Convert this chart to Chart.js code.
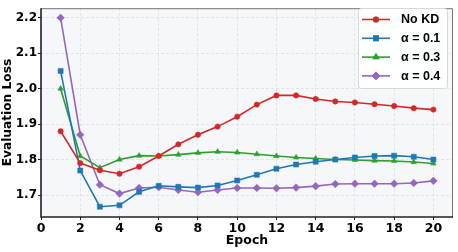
<!DOCTYPE html>
<html>
<head>
<meta charset="utf-8">
<script src="https://cdn.jsdelivr.net/npm/chart.js@4"></script>
<style>
  html, body { margin: 0; padding: 0; background: #fff; }
  #wrap { width: 458px; height: 252px; }
</style>
</head>
<body>
<div id="wrap"><canvas id="lossChart" width="458" height="252"></canvas></div>
<script>
// Data
const epochs = [1, 2, 3, 4, 5, 6, 7, 8, 9, 10, 11, 12, 13, 14, 15, 16, 17, 18, 19, 20];
const noKd   = [1.880, 1.790, 1.770, 1.760, 1.780, 1.810, 1.843, 1.870, 1.893, 1.921, 1.955, 1.981, 1.981, 1.971, 1.964, 1.961, 1.956, 1.951, 1.945, 1.941];
const alpha1 = [2.050, 1.769, 1.667, 1.671, 1.709, 1.726, 1.723, 1.721, 1.727, 1.741, 1.757, 1.774, 1.786, 1.794, 1.800, 1.806, 1.810, 1.811, 1.808, 1.800];
const alpha3 = [2.000, 1.810, 1.777, 1.800, 1.811, 1.810, 1.814, 1.819, 1.822, 1.820, 1.815, 1.810, 1.806, 1.803, 1.800, 1.799, 1.797, 1.796, 1.793, 1.789];
const alpha4 = [2.200, 1.870, 1.729, 1.704, 1.720, 1.722, 1.714, 1.708, 1.714, 1.720, 1.720, 1.719, 1.721, 1.725, 1.731, 1.732, 1.732, 1.732, 1.734, 1.740];

const seriesLabels = ['No KD', 'α = 0.1', 'α = 0.3', 'α = 0.4'];
const xTicks = [0, 2, 4, 6, 8, 10, 12, 14, 16, 18, 20];
const yTicks = [1.7, 1.8, 1.9, 2.0, 2.1, 2.2];

const colors = ['#d62728', '#1f77b4', '#2ca02c', '#9467bd'];
const edgeColors = ['rgba(214,39,40,0.5)', 'rgba(31,119,180,0.5)', 'rgba(44,160,44,0.5)', 'rgba(148,103,189,0.5)'];
const markers = ['circle', 'rect', 'triangle', 'rectRot'];
const markerSize = [2.7, 3.6, 3.2, 3.8];

const AXIS_FONT = '"DejaVu Sans", sans-serif';
const LEGEND_FONT = '"Liberation Sans", Arial, sans-serif';

function toPoints(values) {
    return values.map((v, i) => ({ x: epochs[i], y: v }));
}

const allSeries = [noKd, alpha1, alpha3, alpha4];
const datasets = allSeries.map((vals, i) => ({
    label: seriesLabels[i],
    data: toPoints(vals),
    borderColor: colors[i],
    backgroundColor: colors[i],
    borderWidth: 1.6,
    pointStyle: markers[i],
    pointRadius: markerSize[i],
    pointBackgroundColor: colors[i],
    pointBorderColor: edgeColors[i],
    pointBorderWidth: 1,
    tension: 0
}));

// plot background + spines, matplotlib style
const frame = {
    id: 'frame',
    beforeDraw(chart) {
        const { ctx, chartArea: a } = chart;
        ctx.save();
        ctx.fillStyle = '#f5f7fa';
        ctx.fillRect(a.left, a.top, a.right - a.left, a.bottom - a.top);
        ctx.restore();
    },
    afterDatasetsDraw(chart) {
        const { ctx, chartArea: a } = chart;
        ctx.save();
        ctx.strokeStyle = '#777';
        ctx.lineWidth = 1;
        ctx.beginPath();
        ctx.moveTo(a.left, a.top + 0.5);
        ctx.lineTo(a.right - 0.5, a.top + 0.5);
        ctx.lineTo(a.right - 0.5, a.bottom);
        ctx.stroke();
        ctx.strokeStyle = '#222';
        ctx.lineWidth = 1.6;
        ctx.beginPath();
        ctx.moveTo(a.left, a.top);
        ctx.lineTo(a.left, a.bottom);
        ctx.lineTo(a.right, a.bottom);
        ctx.stroke();
        ctx.restore();
    }
};

// legend drawn like matplotlib: line with marker in the middle
const lineLegend = {
    id: 'lineLegend',
    afterDraw(chart) {
        const { ctx } = chart;
        const bx = 358, by = 8, bw = 89, bh = 80;
        ctx.save();
        ctx.fillStyle = 'rgba(255,255,255,0.9)';
        ctx.strokeStyle = '#d8d8d8';
        ctx.lineWidth = 1;
        ctx.beginPath();
        ctx.roundRect(bx + 0.5, by + 0.5, bw, bh, 3);
        ctx.fill();
        ctx.stroke();
        ctx.font = 'bold 12.5px ' + LEGEND_FONT;
        ctx.textBaseline = 'middle';
        chart.data.datasets.forEach((ds, i) => {
            const y = 19.5 + i * 18.8;
            ctx.strokeStyle = ds.borderColor;
            ctx.lineWidth = 1.6;
            ctx.beginPath();
            ctx.moveTo(362, y);
            ctx.lineTo(390, y);
            ctx.stroke();
            Chart.helpers.drawPoint(ctx, {
                pointStyle: ds.pointStyle,
                radius: ds.pointRadius * 0.85,
                borderWidth: 1,
                rotation: 0
            }, 376, y);
            ctx.fillStyle = ds.pointBackgroundColor;
            ctx.strokeStyle = ds.pointBorderColor;
            ctx.fill();
            ctx.stroke();
            ctx.fillStyle = '#000';
            ctx.fillText(ds.label, 401, y + 0.5);
        });
        ctx.restore();
    }
};

const ctx = document.getElementById('lossChart').getContext('2d');
new Chart(ctx, {
    type: 'line',
    data: { datasets },
    options: {
        responsive: false,
        animation: false,
        layout: { padding: { top: 3, right: 3, left: 0, bottom: 0 } },
        plugins: { legend: { display: false }, tooltip: { enabled: false } },
        scales: {
            x: {
                type: 'linear',
                min: 0,
                max: 21,
                afterBuildTicks: s => { s.ticks = xTicks.map(v => ({ value: v })); },
                afterFit: s => { s.height = 35; },
                border: { display: false, dash: [3, 2] },
                grid: { color: '#dedede', lineWidth: 0.8, tickLength: 3, tickColor: '#222', tickWidth: 1 },
                ticks: { color: '#000', padding: 1, maxRotation: 0, font: { family: AXIS_FONT, size: 12.5, weight: 'bold' } },
                title: { display: true, text: 'Epoch', color: '#000', padding: { top: 0, bottom: 4 }, font: { family: AXIS_FONT, size: 12.5, weight: 'bold' } }
            },
            y: {
                min: 1.638,
                max: 2.227,
                afterBuildTicks: s => { s.ticks = yTicks.map(v => ({ value: v })); },
                afterFit: s => { s.width = 41; },
                border: { display: false, dash: [3, 2] },
                grid: { color: '#dedede', lineWidth: 0.8, tickLength: 3, tickColor: '#222', tickWidth: 1 },
                ticks: { color: '#000', padding: 1, callback: v => v.toFixed(1), font: { family: AXIS_FONT, size: 12, weight: 'bold' } },
                title: { display: true, text: 'Evaluation Loss', color: '#000', padding: { top: 1, bottom: 0 }, font: { family: AXIS_FONT, size: 12.2, weight: 'bold' } }
            }
        }
    },
    plugins: [frame, lineLegend]
});
</script>
</body>
</html>
